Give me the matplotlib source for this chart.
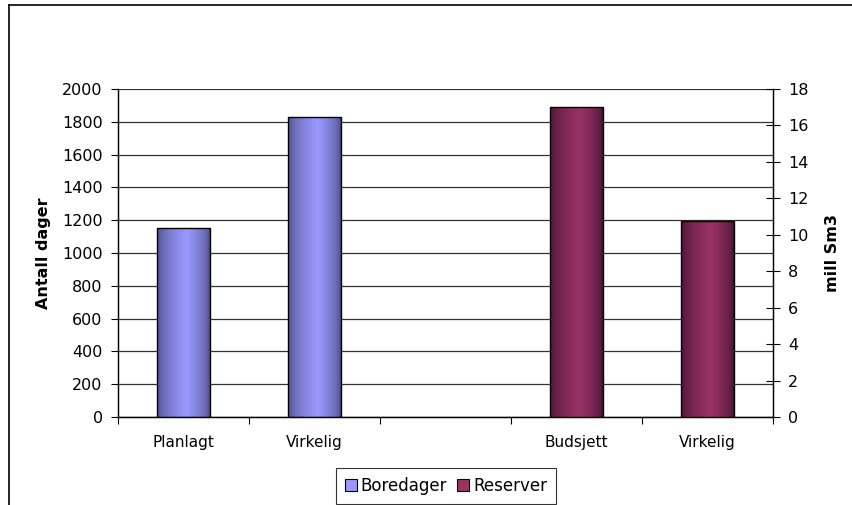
import numpy as np
import matplotlib
matplotlib.use("Agg")
import matplotlib.pyplot as plt
from matplotlib.patches import Patch
from matplotlib.lines import Line2D

# data
categories = ['Planlagt', 'Virkelig', '', 'Budsjett', 'Virkelig']
boredager_pos = [0, 1]
boredager = [1155, 1830]          # Antall dager (left axis)
reserver_pos = [3, 4]
reserver = [17.0, 10.75]          # mill Sm3 (right axis)

blue_mid, blue_dark = '#9999FF', '#4A4A80'
red_mid, red_dark = '#993366', '#421230'


def gradient_bars(ax, rects, light, dark):
    # excel-ish horizontal shading: dark at the edges, light a bit right of center
    c1 = np.array(matplotlib.colors.to_rgb(dark))
    c2 = np.array(matplotlib.colors.to_rgb(light))
    t = np.linspace(0, 1, 64)
    w = np.where(t < 0.56, t / 0.56, (1 - t) / 0.44) ** 0.55
    img = (c1[None, :] * (1 - w[:, None]) + c2[None, :] * w[:, None])[None, :, :]
    for r in rects:
        x0 = r.get_x()
        x1 = x0 + r.get_width()
        h = r.get_height()
        im = ax.imshow(img, extent=(x0, x1, 0, h), aspect='auto', zorder=r.get_zorder(),
                       interpolation='bilinear')
        im.set_clip_path(r)
        r.set_facecolor('none')
        r.set_zorder(r.get_zorder() + 0.1)


fig = plt.figure(figsize=(8.52, 5.05), dpi=100)
ax = fig.add_axes([118 / 852, 1 - 417 / 505, (773 - 118) / 852, (417 - 89) / 505])
ax2 = ax.twinx()

rect1 = ax.bar(boredager_pos, boredager, 0.4, color=blue_mid, edgecolor='black', linewidth=1, zorder=3)
rect2 = ax2.bar(reserver_pos, reserver, 0.4, color=red_mid, edgecolor='black', linewidth=1, zorder=3)
gradient_bars(ax, rect1, blue_mid, blue_dark)
gradient_bars(ax2, rect2, red_mid, red_dark)

ax.set_xlim(-0.5, len(categories) - 0.5)
ax.set_ylim(0, 2000)
ax2.set_ylim(0, 18)
ax.set_yticks(range(0, 2001, 200))
ax2.set_yticks(range(0, 19, 2))
ax.yaxis.grid(True, color='#333333', linewidth=0.9)
ax.set_axisbelow(True)

ax.set_xticks(range(len(categories)))
ax.set_xticklabels(categories, fontsize=11)
ax.set_xticks([p - 0.5 for p in range(len(categories) + 1)], minor=True)
ax.tick_params(axis='x', which='major', length=0, pad=13)
ax.tick_params(axis='x', which='minor', length=5, direction='out', width=0.8)
ax.tick_params(axis='y', length=5, direction='out', width=0.8, labelsize=11.5, pad=6)
ax2.tick_params(axis='y', length=10, direction='inout', width=0.8, labelsize=11.5, pad=6)

for a in (ax, ax2):
    a.spines['top'].set_visible(False)
    for s in ('left', 'right', 'bottom'):
        a.spines[s].set_linewidth(0.9)

ax.set_ylabel('Antall dager', fontsize=11.5, fontweight='bold', labelpad=8)
ax2.set_ylabel('mill Sm3', fontsize=11.5, fontweight='bold', labelpad=12)

handles = [Patch(facecolor=blue_mid, edgecolor='black', linewidth=0.8, label='Boredager'),
           Patch(facecolor=red_mid, edgecolor='black', linewidth=0.8, label='Reserver')]
leg = fig.legend(handles=handles, loc='lower center', bbox_to_anchor=(446 / 852, 0.002), ncol=2,
                 fontsize=12, frameon=True, fancybox=False, handlelength=0.7, handleheight=0.7,
                 handletextpad=0.25, columnspacing=0.6, borderpad=0.55, borderaxespad=0)
leg.get_frame().set_edgecolor('black')
leg.get_frame().set_linewidth(0.8)

# chart frame (only left and top edges are visible in the crop)
fig.add_artist(Line2D([9 / 852, 9 / 852], [0, 1 - 5 / 505], color='black', linewidth=1.2))
fig.add_artist(Line2D([9 / 852, 1], [1 - 5 / 505, 1 - 5 / 505], color='black', linewidth=1.2))

fig.savefig('out.png', dpi=100)
